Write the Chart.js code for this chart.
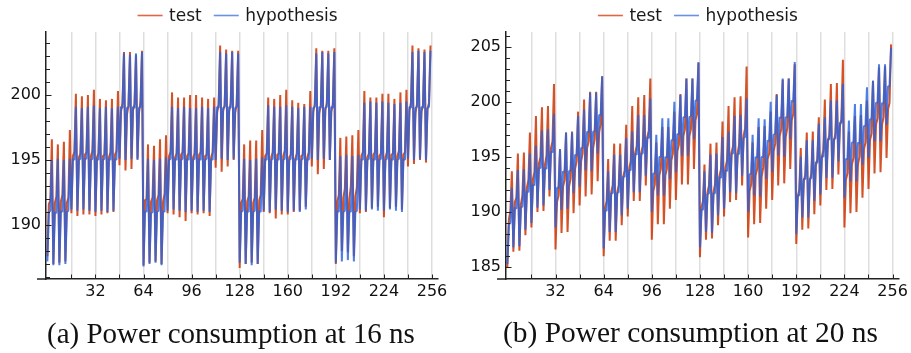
<!DOCTYPE html>
<html><head><meta charset="utf-8">
<script src="https://cdn.jsdelivr.net/npm/chart.js@4.4.1/dist/chart.umd.min.js"></script>
<style>
html,body{margin:0;padding:0;background:#fff;width:911px;height:353px;overflow:hidden;}
#wrap{position:relative;width:911px;height:353px;}
canvas{position:absolute;top:0;}
#c1{left:0;} #c2{left:455px;}
.cap{position:absolute;font-family:"Liberation Serif","DejaVu Serif",serif;color:#111;white-space:nowrap;line-height:1;}
</style></head>
<body><div id="wrap">
<canvas id="c1" width="455" height="353"></canvas>
<canvas id="c2" width="456" height="353"></canvas>
<div class="cap" id="cap1">(a) Power consumption at 16 ns</div>
<div class="cap" id="cap2">(b) Power consumption at 20 ns</div>
</div>
<script>
// x positions: sample index 0..255
const X_INDEX = Array.from({length: 256}, (_, i) => i);
const X_GRID = [16,32,48,64,80,96,112,128,144,160,176,192,208,224,240,256];
const X_LABELS = [32,64,96,128,160,192,224,256];
const Y_TICKS_A = [190,195,200];
const Y_TICKS_B = [185,190,195,200,205];
const SERIES_NAMES = ['test','hypothesis'];

// (a) 16 ns — measured ("test")
const testA = [
187.6,191.6,191.9,196.6, 187.0,191.7,192.2,196.2, 187.1,191.8,192.3,196.4, 187.2,191.7,192.1,197.3,
190.9,195.3,195.6,200.1, 190.7,195.2,195.5,199.9, 190.8,195.4,195.6,200.0, 190.8,195.3,195.7,200.4,
190.7,195.2,195.5,199.7, 190.8,195.3,195.4,199.6, 190.9,195.2,195.6,199.7, 191.0,195.4,195.7,200.3,
194.6,198.7,199.4,203.3, 194.2,198.5,199.2,203.3, 194.3,198.8,199.3,203.1, 195.1,198.6,199.5,203.4,
186.9,191.9,192.0,196.2, 187.1,191.8,192.1,196.1, 187.2,191.9,192.3,196.6, 187.0,191.8,192.4,196.9,
190.9,195.3,195.6,200.2, 190.8,195.2,195.5,199.8, 190.6,195.4,195.6,199.8, 190.3,195.3,195.5,200.0,
190.9,195.2,195.5,200.0, 190.8,195.4,195.6,199.8, 190.9,195.3,195.4,199.7, 190.7,195.2,195.6,199.8,
194.4,198.6,199.3,203.8, 194.1,198.8,199.2,203.5, 194.5,198.7,199.4,203.4, 195.0,198.6,199.3,203.4,
186.7,191.7,192.0,196.2, 187.0,191.8,192.2,196.5, 187.1,191.7,192.1,196.5, 187.0,191.9,192.3,197.3,
191.0,195.3,195.5,199.8, 190.9,195.2,195.6,199.7, 190.5,195.4,195.5,200.0, 190.8,195.3,195.7,200.4,
190.8,195.2,195.4,199.6, 191.0,195.1,195.5,199.4, 191.1,195.3,195.4,199.3, 191.4,195.2,195.6,200.3,
194.5,198.7,199.3,203.6, 193.9,198.6,199.2,203.4, 194.3,198.8,199.4,203.4, 195.0,198.7,199.3,203.6,
187.0,191.8,192.3,196.7, 188.0,192.1,192.8,196.8, 187.9,192.0,193.0,196.9, 187.6,192.2,192.9,197.3,
190.9,195.3,195.6,200.3, 191.0,195.2,195.5,199.8, 191.3,195.4,195.6,199.8, 191.4,195.3,195.5,200.1,
190.6,195.2,195.6,200.1, 191.3,195.4,195.5,199.7, 191.4,195.3,195.7,200.2, 191.2,195.4,195.6,200.4,
194.5,198.8,199.4,203.8, 194.7,198.6,199.3,203.6, 195.0,198.7,199.2,203.5, 194.8,198.9,199.4,203.8
];
// (a) 16 ns — model ("hypothesis")
const hypA = [
187.2,191.0,191.1,195.0, 186.9,191.0,190.9,195.1, 186.9,191.1,191.0,195.0, 187.0,191.0,191.1,195.1,
191.2,195.1,195.0,199.1, 191.1,195.0,195.1,199.0, 191.2,195.1,195.1,199.1, 191.1,195.0,195.1,199.2,
191.0,195.1,195.0,199.0, 191.1,195.0,195.1,199.1, 191.0,195.1,195.0,199.0, 191.1,195.1,195.0,199.1,
195.1,199.1,199.0,203.2, 195.0,199.0,199.1,203.1, 195.1,199.1,199.0,203.2, 195.0,199.0,199.1,203.3,
186.8,191.1,191.0,195.1, 187.0,190.9,191.0,195.0, 187.1,191.0,191.1,195.1, 186.9,191.1,191.0,195.2,
191.1,195.0,195.1,199.1, 191.2,195.1,195.0,199.0, 191.1,195.0,195.1,199.1, 191.0,195.1,195.0,199.0,
191.1,195.0,195.1,199.0, 191.0,195.1,195.0,199.1, 191.1,195.0,195.1,199.0, 191.0,195.1,195.0,199.1,
195.0,199.1,199.0,203.3, 195.1,199.0,199.1,203.2, 195.0,199.1,199.0,203.3, 195.1,199.0,199.1,203.2,
187.1,191.0,191.1,195.1, 187.0,191.1,191.0,195.0, 186.9,191.0,191.1,195.1, 187.0,191.1,191.0,195.2,
191.1,195.1,195.0,199.2, 191.0,195.0,195.1,199.1, 191.2,195.1,195.0,199.1, 191.1,195.0,195.1,199.2,
191.0,195.0,195.1,199.1, 191.1,195.1,195.0,199.0, 191.0,195.0,195.1,199.1, 191.2,195.1,195.0,199.1,
195.1,199.0,199.1,203.2, 195.0,199.1,199.0,203.3, 195.1,199.0,199.1,203.2, 195.0,199.1,199.0,203.3,
187.1,191.1,191.0,195.3, 187.2,191.0,191.1,195.4, 187.3,191.1,191.0,195.3, 187.2,191.0,191.1,195.4,
191.2,195.1,195.0,199.4, 191.1,195.0,195.1,199.5, 191.2,195.1,195.0,199.4, 191.1,195.0,195.1,199.5,
191.1,195.0,195.1,199.4, 191.2,195.1,195.0,199.3, 191.1,195.0,195.1,199.4, 191.0,195.1,195.0,199.5,
195.1,199.1,199.0,203.3, 195.0,199.0,199.1,203.4, 195.1,199.1,199.0,203.3, 195.0,199.0,199.1,203.4
];
// (b) 20 ns — measured ("test")
const testB = [
185.0,189.3,190.1,193.7, 186.4,190.9,191.3,195.3, 186.5,190.7,191.5,195.4, 187.9,192.2,192.9,197.2,
188.6,193.0,193.6,198.7, 190.0,194.4,195.0,199.5, 190.1,194.3,195.1,199.6, 191.4,195.8,196.4,201.6,
186.6,190.9,191.5,195.7, 188.1,192.3,192.9,197.2, 188.2,192.3,193.0,197.3, 189.9,193.9,194.6,199.1,
190.6,194.6,195.3,200.2, 191.4,195.8,196.4,200.9, 191.6,195.8,196.6,200.9, 192.8,197.2,198.0,202.3,
186.0,190.4,191.0,194.8, 187.4,191.8,192.4,196.2, 187.4,191.8,192.4,196.2, 188.8,193.2,193.8,197.9,
189.6,194.0,194.6,199.6, 191.0,195.4,196.0,200.4, 191.0,195.4,196.0,200.6, 192.4,196.8,197.4,202.1,
187.5,191.9,192.5,196.3, 188.9,193.3,193.9,197.7, 188.9,193.3,193.9,197.7, 190.3,194.7,195.3,199.1,
191.1,195.5,196.1,200.7, 192.5,196.9,197.5,202.1, 192.5,196.9,197.5,202.1, 193.9,198.3,198.9,203.5,
185.9,190.4,191.0,194.3, 187.5,191.8,192.4,196.2, 187.6,191.8,192.5,196.3, 188.8,193.3,193.9,198.2,
189.6,194.0,194.7,199.6, 190.9,195.4,196.0,200.4, 191.1,195.3,196.1,200.5, 192.4,196.9,197.6,203.2,
187.7,191.9,192.5,196.3, 188.9,193.3,193.9,197.7, 189.0,193.2,194.0,197.8, 190.3,194.8,195.3,199.1,
191.1,195.5,196.2,200.7, 192.4,196.9,197.5,202.0, 192.6,196.8,197.6,202.1, 193.9,198.3,198.9,203.4,
187.1,191.4,192.0,195.8, 188.4,192.8,193.4,197.2, 188.5,192.8,193.5,197.3, 189.8,194.2,194.8,198.6,
190.6,195.0,195.6,200.2, 192.0,196.4,197.0,201.6, 192.1,196.4,197.1,201.7, 193.4,197.8,198.4,203.8,
188.6,192.9,193.5,197.3, 189.9,194.3,194.9,198.7, 190.0,194.3,195.0,198.8, 191.3,195.7,196.3,200.1,
192.1,196.5,197.1,201.9, 193.5,197.9,198.5,203.1, 193.6,197.9,198.6,203.2, 194.9,199.3,199.9,205.2
];
// (b) 20 ns — model ("hypothesis")
const hypB = [
185.3,188.9,189.0,192.2, 186.8,190.4,190.3,193.8, 186.9,190.4,190.5,193.9, 188.4,191.9,191.8,195.3,
189.0,192.5,192.4,196.0, 190.4,194.0,194.0,197.4, 190.6,194.0,193.9,197.5, 192.0,195.5,195.4,198.9,
188.6,192.2,192.2,195.7, 190.2,193.7,193.6,197.2, 190.3,193.7,193.8,197.2, 191.7,195.2,195.1,198.7,
192.3,195.8,195.8,199.3, 193.8,197.3,197.2,200.8, 193.7,197.3,197.3,200.8, 195.3,198.8,198.8,202.3,
186.7,190.2,190.1,193.7, 188.2,191.7,191.7,195.2, 188.2,191.7,191.8,195.2, 189.7,193.2,193.2,196.7,
190.3,193.8,193.8,197.3, 191.8,195.3,195.2,198.8, 191.8,195.3,195.3,198.8, 193.3,196.8,196.7,200.3,
190.0,193.5,193.5,197.0, 191.5,195.0,195.0,198.5, 191.5,195.0,194.9,198.5, 193.0,196.5,196.5,200.0,
193.6,197.1,197.0,200.6, 195.1,198.6,198.6,202.1, 195.1,198.6,198.7,202.1, 196.6,200.1,200.1,203.6,
186.8,190.2,190.2,193.7, 188.2,191.6,191.7,195.2, 188.1,191.7,191.7,195.3, 189.7,193.2,193.1,196.8,
190.3,193.8,193.7,197.3, 191.8,195.3,195.3,198.7, 191.7,195.2,195.3,198.8, 193.3,196.7,196.8,200.3,
190.0,193.4,193.5,197.0, 191.5,195.0,194.9,198.5, 191.4,195.0,195.0,198.4, 193.0,196.5,196.4,200.0,
193.6,197.0,197.1,200.6, 195.1,198.6,198.5,202.1, 195.0,198.6,198.6,202.1, 196.6,200.1,200.0,203.6,
188.0,191.5,191.5,195.0, 189.5,193.0,193.0,196.5, 189.5,193.0,193.1,196.5, 191.0,194.5,194.5,198.0,
191.6,195.1,195.0,198.6, 193.1,196.6,196.6,200.1, 193.1,196.6,196.7,200.1, 194.6,198.1,198.1,201.6,
191.3,194.8,194.8,198.3, 192.8,196.3,196.3,199.8, 192.8,196.3,196.2,199.8, 194.3,197.8,197.8,201.3,
194.9,198.4,198.4,201.9, 196.4,199.9,199.9,203.4, 196.4,199.9,199.8,203.4, 197.9,201.4,201.4,204.9
];

const RED = 'rgba(205,52,0,0.85)';
const BLUE = 'rgba(40,98,222,0.82)';
const RED_LEG = 'rgb(228,100,70)';
const BLUE_LEG = 'rgb(105,145,230)';
const AXIS = '#222';
const GRID = 'rgba(0,0,0,0.13)';
const TICKFONT = {family: 'DejaVu Sans', size: 16};

const extras = {
  id: 'extras',
  afterDatasetsDraw(chart) {
    const ctx = chart.ctx, ca = chart.chartArea;
    const xs = chart.scales.x, ys = chart.scales.y;
    ctx.save();
    ctx.strokeStyle = AXIS;
    ctx.lineWidth = 1;
    for (let v = Math.ceil(ys.min); v <= Math.floor(ys.max); v++) {
      const y = Math.round(ys.getPixelForValue(v)) + 0.5;
      const len = (v % 5 === 0) ? 5.5 : 4;
      ctx.beginPath(); ctx.moveTo(ca.left, y); ctx.lineTo(ca.left + len, y); ctx.stroke();
    }
    X_GRID.forEach(v => {
      const x = Math.round(xs.getPixelForValue(v)) + 0.5;
      ctx.beginPath(); ctx.moveTo(x, ca.bottom); ctx.lineTo(x, ca.bottom - 4.5); ctx.stroke();
    });
    ctx.lineWidth = 1.5;
    ctx.beginPath(); ctx.moveTo(ca.left - 9, ca.bottom); ctx.lineTo(ca.left, ca.bottom); ctx.stroke();
    // legend
    ctx.font = '17px "DejaVu Sans"';
    const cols = [RED_LEG, BLUE_LEG];
    const items = chart.data.datasets.map((d, i) => ({t: d.label, c: cols[i], w: ctx.measureText(d.label).width}));
    const LINE = 25, GAP = 6.5, SEP = 12;
    let total = 0;
    items.forEach((it, i) => { total += LINE + GAP + it.w + (i < items.length - 1 ? SEP : 0); });
    let x = (ca.left + ca.right) / 2 - 4.4 - total / 2;
    items.forEach(it => {
      ctx.strokeStyle = it.c; ctx.lineWidth = 1.6;
      ctx.beginPath(); ctx.moveTo(x, 15.5); ctx.lineTo(x + LINE, 15.5); ctx.stroke();
      x += LINE + GAP;
      ctx.fillStyle = '#1a1a1a'; ctx.textBaseline = 'alphabetic'; ctx.textAlign = 'left';
      ctx.fillText(it.t, x, 20.7);
      x += it.w + SEP;
    });
    ctx.restore();
  }
};

function makeChart(id, test, hyp, yMin, yMax, yTicks, yWidth, padRight) {
  return new Chart(document.getElementById(id), {
    type: 'line',
    data: {
      labels: X_INDEX,
      datasets: [
        {label: SERIES_NAMES[0], data: test, borderColor: RED, backgroundColor: RED, borderWidth: 2,
         pointRadius: 0, tension: 0, borderJoinStyle: 'bevel', fill: false, order: 1},
        {label: SERIES_NAMES[1], data: hyp, borderColor: BLUE, backgroundColor: BLUE, borderWidth: 2,
         pointRadius: 0, tension: 0, borderJoinStyle: 'bevel', fill: false, order: 0}
      ]
    },
    options: {
      responsive: false, animation: false, devicePixelRatio: 1,
      layout: {padding: {left: 0, right: padRight, top: 32, bottom: 44}},
      plugins: {legend: {display: false}, tooltip: {enabled: false}},
      scales: {
        x: {
          type: 'linear', min: -0.9, max: 260,
          afterBuildTicks: s => { s.ticks = X_GRID.map(v => ({value: v})); },
          afterFit: s => { s.height = 30; },
          grid: {color: GRID, lineWidth: 1.5, drawTicks: false},
          border: {display: true, color: AXIS, width: 1.5},
          ticks: {callback: v => X_LABELS.includes(v) ? String(v) : '', font: TICKFONT, color: '#111',
                  padding: 3, maxRotation: 0, autoSkip: false}
        },
        y: {
          min: yMin, max: yMax,
          afterBuildTicks: s => { s.ticks = yTicks.map(v => ({value: v})); },
          afterFit: s => { s.width = yWidth; },
          grid: {display: false, drawTicks: false},
          border: {display: true, color: AXIS, width: 1.5},
          ticks: {font: TICKFONT, color: '#111', padding: 5}
        }
      }
    },
    plugins: [extras]
  });
}

makeChart('c1', testA, hypA, 185.846, 204.846, Y_TICKS_A, 46, 17);
makeChart('c2', testB, hypB, 183.93, 206.32, Y_TICKS_B, 51, 11);

function placeCaption(id, cx, width, baseline) {
  const el = document.getElementById(id);
  const ctx = document.createElement('canvas').getContext('2d');
  ctx.font = '100px "Liberation Serif"';
  const w = ctx.measureText(el.textContent).width;
  const fs = 100 * width / w;
  el.style.fontSize = fs + 'px';
  el.style.left = (cx - width / 2) + 'px';
  el.style.top = (baseline - 0.8375 * fs) + 'px';
}
placeCaption('cap1', 231, 368, 343);
placeCaption('cap2', 690.5, 375, 343);
</script>
</body></html>
